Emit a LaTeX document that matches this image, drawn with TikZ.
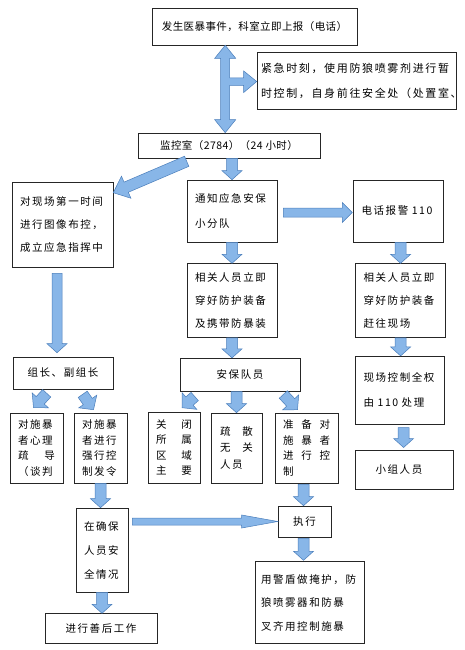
\documentclass[tikz,border=0pt]{standalone}
\usepackage{fontspec}
\newfontfamily\cjk[LetterSpace=15]{Noto Sans CJK SC}
\newfontfamily\cjkn[LetterSpace=4]{Noto Sans CJK SC}
\usetikzlibrary{positioning, calc}

\definecolor{arrowfill}{RGB}{136,182,232}
\definecolor{arrowline}{RGB}{74,126,187}

% block arrow from #2 to #3, [shaft half width/head half width/head length]
\newcommand{\blockarr}[3][5.5pt/10pt/9pt]{%
  \foreach \aw/\ah/\al in {#1}{%
    \path #2 coordinate (ba-s) #3 coordinate (ba-e);
    \path ($(ba-e)!\al!(ba-s)$) coordinate (ba-h);
    \filldraw[blockarrow] ($(ba-s)!\aw!90:(ba-e)$) -- ($(ba-h)!\aw!90:(ba-e)$)
      -- ($(ba-h)!\ah!90:(ba-e)$) -- (ba-e) -- ($(ba-h)!\ah!-90:(ba-e)$)
      -- ($(ba-h)!\aw!-90:(ba-e)$) -- ($(ba-s)!\aw!-90:(ba-e)$) -- cycle;
  }}

\begin{document}
\begin{tikzpicture}[
    x=1pt, y=-1pt,
    box/.style={draw=black!85, line width=0.6pt, align=left,
                inner xsep=8pt, inner ysep=0pt,
                font={\cjk\fontsize{10.5pt}{23pt}\selectfont}},
    narrow/.style={box, font={\cjk\fontsize{10.5pt}{15.5pt}\selectfont}},
    single/.style={box, align=center},
    blockarrow/.style={fill=arrowfill, draw=arrowline, line width=0.5pt, line join=miter}
]
  \fill[white] (0,0) rectangle (464,650);
  \useasboundingbox (0,0) rectangle (464,650);

  % Top: report, emergency, monitor room
  \node[single, minimum width=205pt, minimum height=37pt,
        font={\cjkn\fontsize{10.5pt}{23pt}\selectfont}] (ev) at (254.5,26.5)
    {发生医暴事件，科室立即上报（电话）};
  \node[box, inner xsep=4pt, text width=191pt, minimum height=57pt,
        font={\cjk\fontsize{11pt}{25pt}\selectfont}] (emg) at (356.5,80.5)
    {紧急时刻，使用防狼喷雾剂进行暂\\时控制，自身前往安全处（处置室、};
  \node[single, minimum width=182pt, minimum height=25pt,
        font={\cjkn\fontsize{10.5pt}{23pt}\selectfont}] (mon) at (229,145.5)
    {监控室（2784）（24 小时）};

  % Second row
  \node[box, text width=85pt, minimum height=85pt] (scene) at (62.5,224.5)
    {对现场第一时间\\进行图像布控，\\成立应急指挥中};
  \node[box, text width=74pt, minimum height=62pt,
        font={\cjk\fontsize{10.5pt}{25pt}\selectfont}] (notify) at (232,211)
    {通知应急安保\\小分队};
  \node[box, text width=74pt, minimum height=62pt, right=76pt of notify] (call)
    {电话报警 110};

  % Third row
  \node[box, text width=74pt, minimum height=74pt, below=21pt of notify] (gear1)
    {相关人员立即\\穿好防护装备\\及携带防暴装};
  \node[box, text width=74pt, minimum height=74pt, below=21pt of call, xshift=2pt] (gear2)
    {相关人员立即\\穿好防护装备\\赶往现场};

  % Fourth row
  \node[single, minimum width=100pt, minimum height=32pt] (lead) at (63,373)
    {组长、副组长};
  \node[single, minimum width=120pt, minimum height=33pt, below=20pt of gear1, xshift=8pt] (guard)
    {安保队员};
  \node[box, text width=73pt, minimum height=68pt, below=18pt of gear2, xshift=-0.5pt,
        font={\cjk\fontsize{10.5pt}{25pt}\selectfont}] (ctrl)
    {现场控制全权\\由 110 处理};
  \node[box, inner xsep=20pt, text width=58pt, minimum height=39pt, below=25pt of ctrl, xshift=4.5pt] (team)
    {小组人员};

  % Narrow boxes
  \node[narrow, text width=37pt, minimum height=70pt] (talk) at (36.5,448)
    {对施暴\\者心理\\疏\hfill 导\\（谈判};
  \node[narrow, text width=37pt, minimum height=70pt] (force) at (100.5,448)
    {对施暴\\者进行\\强行控\\制发令};
  \node[narrow, text width=36pt, minimum height=71pt] (close) at (174,447.5)
    {关\hfill 闭\\所\hfill 属\\区\hfill 域\\主\hfill 要};
  \node[narrow, inner xsep=9pt, text width=33pt, minimum height=70pt,
        font={\cjk\fontsize{10.5pt}{16.5pt}\selectfont}] (evac) at (236.5,448)
    {疏\hfill 散\\无\hfill 关\\人员};
  \node[narrow, text width=47pt, minimum height=70pt] (prep) at (306.5,448)
    {准\hfill 备\hfill 对\\施\hfill 暴\hfill 者\\进\hfill 行\hfill 控\\制};

  % Bottom
  \node[box, text width=36pt, minimum height=84pt,
        font={\cjk\fontsize{10.5pt}{24pt}\selectfont}] (safe) at (102,550)
    {在确保\\人员安\\全情况};
  \node[single, minimum width=112pt, minimum height=30pt, below=21pt of safe, xshift=-1pt] (after)
    {进行善后工作};
  \node[single, minimum width=53pt, minimum height=31pt] (exec) at (304.5,521.5)
    {执行};
  \node[box, inner xsep=6pt, text width=97pt, minimum height=82pt, below=24pt of exec, xshift=5pt,
        font={\cjk\fontsize{10.5pt}{23.5pt}\selectfont}] (shield)
    {用警盾做掩护，防\\狼喷雾器和防暴\\叉齐用控制施暴};

  % Double arrow with branch
  \coordinate (dt) at ($(ev.south west)+(73.5,0)$);
  \coordinate (db) at (dt |- mon.north);
  \coordinate (dr) at ($(emg.west)+(0,1)$);
  \filldraw[blockarrow] (dt) -- ++(10.5,13) -- ++(-6,0) |- ($(dr)+(-13,-3.5)$)
    -- ++(0,-7) -- (dr) -- ++(-13,11) -- ++(0,-7) -| ($(db)+(4.5,-13)$)
    -- ++(6,0) -- (db) -- ++(-10.5,-13) -- ++(6,0) -- ($(dt)+(-4.5,13)$)
    -- ++(-6,0) -- cycle;

  % Arrows
  \blockarr[5.5pt/12pt/14pt]{($(mon.south west)+(49,3)$)}{($(scene.north east)+(0,11)$)}
  \blockarr{(mon.south -| notify.north)}{(notify.north)}
  \blockarr[4.5pt/10pt/10pt]{($(notify.east)+(6,1.5)$)}{($(call.west)+(-1,1.5)$)}
  \blockarr{(notify.south)}{(gear1.north)}
  \blockarr{(call.south -| gear2.north)}{(gear2.north)}
  \blockarr[5pt/10pt/9pt]{($(scene.south)+(-5.5,6)$)}{($(lead.north)+(-6,-4)$)}
  \blockarr{(gear1.south)}{(gear1.south |- guard.north)}
  \blockarr{(gear2.south)}{(gear2.south |- ctrl.north)}
  \blockarr{($(ctrl.south)+(3.5,3)$)}{($(team.north)+(-1,-2)$)}
  \blockarr[5.5pt/11pt/10pt]{($(lead.south west)+(34,4)$)}{($(talk.north)+(-3,-5)$)}
  \blockarr[5.5pt/11pt/10pt]{($(lead.south west)+(70,5)$)}{($(force.north)+(-7,-3)$)}
  \blockarr[5.5pt/11pt/10pt]{($(guard.south west)+(15,5)$)}{($(close.north)+(8,-4)$)}
  \blockarr{(guard.south -| evac.north)}{(evac.north)}
  \blockarr[5.5pt/11pt/10pt]{($(guard.south east)+(-17,3)$)}{($(prep.north)+(-9,-3)$)}
  \blockarr{(force.south)}{(force.south |- safe.north)}
  \blockarr{($(prep.south)+(-3,1)$)}{($(exec.north)+(-1,0)$)}
  \blockarr{($(exec.south)+(-1,1)$)}{($(exec.south |- shield.north)+(-1,-1)$)}
  \blockarr{(safe.south)}{(safe.south |- after.north)}
  \blockarr[3.5pt/6.5pt/36pt]{($(safe.east)+(4,-28.5)$)}{(exec.west)}
\end{tikzpicture}
\end{document}
